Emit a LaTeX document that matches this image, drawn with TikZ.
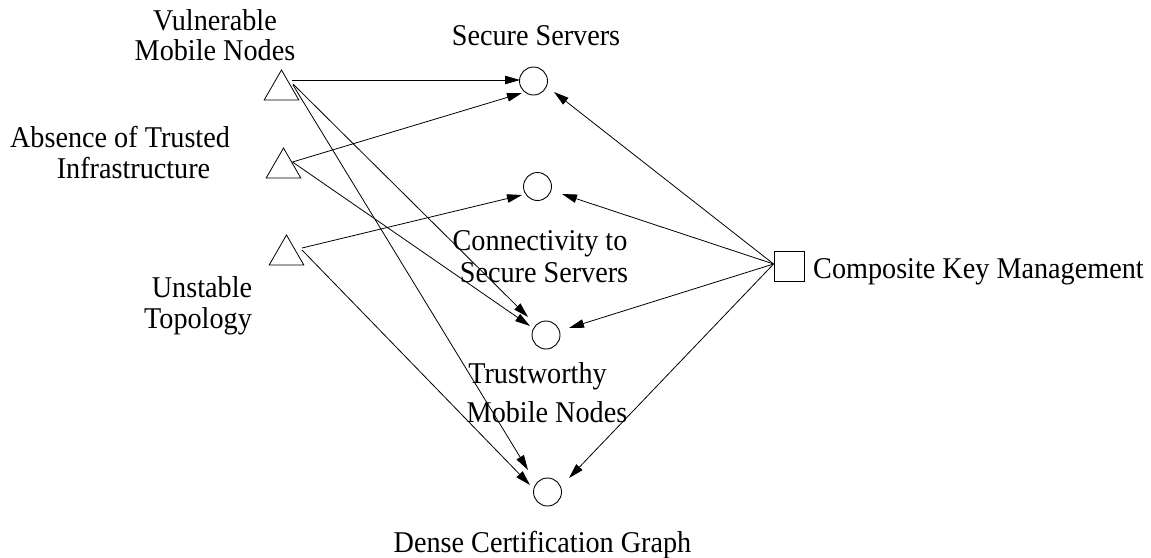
\documentclass[tikz,border=0pt]{standalone}
\usepackage{fontspec}
\setmainfont{Liberation Serif}
\usetikzlibrary{shapes.geometric,arrows.meta}

\begin{document}
\begin{tikzpicture}[x=1pt,y=-1pt,
  tri/.style={draw,regular polygon,regular polygon sides=3,minimum size=40pt,inner sep=0pt,line width=0.8pt},
  goal/.style={draw,circle,minimum size=28pt,inner sep=0pt,line width=0.9pt},
  box/.style={draw,rectangle,minimum size=30pt,inner sep=0pt,line width=0.8pt},
  lbl/.style={inner sep=0pt,anchor=base,yscale=1.07,transform shape,font=\fontsize{28.2}{34}\selectfont},
  link/.style={line width=0.8pt,-{Triangle[length=15pt,width=8.5pt]}}
]
\useasboundingbox (0,0) rectangle (1151,557);

% threats
\node[tri] (t1) at (281.5,90) {};
\node[tri] (t2) at (283.5,168) {};
\node[tri] (t3) at (286.5,255) {};

% goals
\node[goal] (c1) at (533.5,81) {};
\node[goal] (c2) at (537.5,186.5) {};
\node[goal] (c3) at (546,335) {};
\node[goal] (c4) at (547.5,492) {};

% solution
\node[box] (sq) at (789,266) {};

% labels
\node[lbl] (vul1) at (215,30) {Vulnerable};
\node[lbl] (vul2) at (215,60) {Mobile Nodes};
\node[lbl] (abs1) at (120,147) {Absence of Trusted};
\node[lbl] (abs2) at (133.5,178) {Infrastructure};
\node[lbl] (uns1) at (202,297) {Unstable};
\node[lbl] (uns2) at (198,328) {Topology};
\node[lbl] (sec) at (536,45) {Secure Servers};
\node[lbl] (con1) at (540,250) {Connectivity to};
\node[lbl] (con2) at (544,282) {Secure Servers};
\node[lbl] (tru1) at (537.5,383) {Trustworthy};
\node[lbl] (tru2) at (547,422) {Mobile Nodes};
\node[lbl] (den) at (542.5,552) {Dense Certification Graph};
\node[lbl,anchor=base west] (ckm) at (813,278) {Composite Key Management};

% threat -> goal
\draw[link] ([shift={(10.5,-10)}]t1.center) -- ([shift={(-13.5,-1)}]c1.center);
\draw[link] ([shift={(11.5,-6)}]t1.center) -- ([shift={(-18,-18)}]c3.center);
\draw[link] ([shift={(11.5,-5)}]t1.center) -- ([shift={(-19.5,-22)}]c4.center);
\draw[link] ([shift={(9,-6)}]t2.center) -- ([shift={(-11.5,12)}]c1.center);
\draw[link] ([shift={(9,-6)}]t2.center) -- ([shift={(-16,-9)}]c3.center);
\draw[link] ([shift={(15.5,-7)}]t3.center) -- ([shift={(-15.5,8.5)}]c2.center);
\draw[link] ([shift={(15.5,-5)}]t3.center) -- ([shift={(-17.5,-7)}]c4.center);

% solution -> goal
\draw[link] ([shift={(0,-2)}]sq.west) -- ([shift={(20.5,11)}]c1.center);
\draw[link] ([shift={(0,-2)}]sq.west) -- ([shift={(24.5,7.5)}]c2.center);
\draw[link] ([shift={(0,-2)}]sq.west) -- ([shift={(23,-7)}]c3.center);
\draw[link] ([shift={(0,-2)}]sq.west) -- ([shift={(21.5,-14)}]c4.center);
\end{tikzpicture}
\end{document}
